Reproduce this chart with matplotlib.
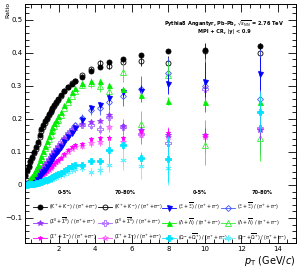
import numpy as np
import matplotlib
matplotlib.use("Agg")
import matplotlib.pyplot as plt
from matplotlib.lines import Line2D
from matplotlib.ticker import MultipleLocator

nan = np.nan

# pT bin centres (GeV/c)
pt = [0.15, 0.25, 0.35, 0.45, 0.55, 0.65, 0.75, 0.85, 0.95, 1.05,
      1.15, 1.25, 1.35, 1.45, 1.55, 1.65, 1.75, 1.85, 1.95,
      2.1, 2.3, 2.5, 2.7, 2.9,
      3.25, 3.75, 4.25, 4.75, 5.5, 6.5, 8.0, 10.0, 13.0]

# ratios to (pi+ + pi-), _c = 0-5%, _p = 70-80%
k_c = [0.030, 0.045, 0.058, 0.072, 0.086, 0.100, 0.115, 0.130, 0.152, 0.168,
       0.182, 0.194, 0.204, 0.214, 0.224, 0.234, 0.243, 0.251, 0.259,
       0.271, 0.284, 0.296, 0.306, 0.314,
       0.328, 0.345, 0.358, 0.371, 0.382, 0.393, 0.405, 0.409, 0.421]
k_p = [0.028, 0.042, 0.055, 0.069, 0.082, 0.096, 0.110, 0.125, 0.146, 0.162,
       0.176, 0.189, 0.200, 0.211, 0.221, 0.231, 0.240, 0.249, 0.257,
       0.270, 0.284, 0.297, 0.308, 0.316,
       0.332, 0.350, 0.369, 0.360, 0.371, 0.374, 0.369, 0.405, 0.399]

sig0_c = [0.003, 0.005, 0.008, 0.011, 0.015, 0.020, 0.025, 0.031, 0.038, 0.045,
          0.052, 0.059, 0.067, 0.075, 0.083, 0.091, 0.099, 0.107, 0.114,
          0.125, 0.138, 0.151, 0.163, 0.173,
          0.185, 0.192, 0.194, 0.212, 0.177, 0.167, 0.152, 0.150, 0.165]
sig0_p = [0.003, 0.005, 0.008, 0.012, 0.016, 0.021, 0.027, 0.033, 0.040, 0.047,
          0.055, 0.062, 0.070, 0.078, 0.086, 0.094, 0.102, 0.110, 0.118,
          0.129, 0.143, 0.156, 0.168, 0.178,
          0.182, 0.182, 0.169, 0.207, 0.175, 0.155, 0.126, 0.290, 0.172]

sigpm_c = [0.002, 0.003, 0.005, 0.007, 0.009, 0.012, 0.015, 0.019, 0.023, 0.027,
           0.032, 0.037, 0.042, 0.047, 0.053, 0.058, 0.064, 0.069, 0.075,
           0.083, 0.094, 0.105, 0.114, 0.121,
           0.125, 0.138, 0.141, 0.143, 0.141, 0.162, 0.157, 0.152, 0.222]
sigpm_p = [0.002, 0.003, 0.005, 0.007, 0.009, 0.012, 0.015, 0.019, 0.023, 0.027,
           0.032, 0.036, 0.041, 0.046, 0.052, 0.057, 0.062, 0.068, 0.073,
           0.081, 0.091, 0.101, 0.110, 0.116,
           0.118, 0.126, 0.130, 0.175, 0.130, 0.152, 0.145, 0.146, 0.170]

xi_c = [0.001, 0.002, 0.003, 0.005, 0.008, 0.011, 0.015, 0.020, 0.026, 0.032,
        0.039, 0.046, 0.054, 0.063, 0.071, 0.080, 0.088, 0.096, 0.104,
        0.115, 0.130, 0.145, 0.158, 0.171,
        0.196, 0.232, 0.242, 0.263, 0.280, 0.283, 0.306, 0.313, 0.336]
xi_p = [0.001, 0.002, 0.004, 0.006, 0.009, 0.012, 0.016, 0.021, 0.027, 0.034,
        0.041, 0.049, 0.057, 0.066, 0.075, 0.084, 0.093, 0.101, 0.110,
        0.122, 0.138, 0.153, 0.167, 0.180,
        0.204, 0.227, 0.232, 0.252, 0.268, 0.290, 0.338, 0.300, 0.260]

lam_c = [0.004, 0.008, 0.012, 0.018, 0.026, 0.036, 0.047, 0.060, 0.074, 0.089,
         0.104, 0.119, 0.134, 0.148, 0.162, 0.175, 0.187, 0.198, 0.208,
         0.222, 0.242, 0.260, 0.280, 0.293,
         0.310, 0.316, 0.316, 0.303, 0.290, 0.273, 0.255, 0.250, 0.250]
lam_p = [0.004, 0.007, 0.011, 0.017, 0.024, 0.033, 0.044, 0.056, 0.069, 0.083,
         0.097, 0.111, 0.125, 0.139, 0.152, 0.165, 0.177, 0.188, 0.198,
         0.212, 0.232, 0.250, 0.270, 0.285,
         0.303, 0.308, 0.300, 0.283, 0.343, 0.184, 0.333, 0.121, 0.142]

om_c = [0.001, 0.001, 0.002, 0.002, 0.003, 0.004, 0.005, 0.007, 0.008, 0.010,
        0.012, 0.014, 0.016, 0.019, 0.021, 0.024, 0.027, 0.030, 0.033,
        0.037, 0.043, 0.050, 0.056, 0.060,
        0.061, 0.071, 0.073, 0.106, 0.121, 0.081, 0.078, nan, 0.220]
om_p = [0.001, 0.001, 0.001, 0.002, 0.002, 0.003, 0.004, 0.005, 0.006, 0.008,
        0.009, 0.011, 0.013, 0.015, 0.017, 0.019, 0.021, 0.024, 0.026,
        0.029, 0.034, 0.039, 0.044, 0.048,
        0.052, 0.040, 0.045, 0.060, 0.076, 0.058, 0.050, nan, nan]

# statistical errors of the nine high-pT bins (3.25 ... 13 GeV/c)
k_c_err = [0.002, 0.003, 0.003, 0.004, 0.004, 0.005, 0.006, 0.008, 0.010]
k_p_err = [0.004, 0.006, 0.008, 0.010, 0.012, 0.015, 0.020, 0.025, 0.030]
sig0_c_err = [0.003, 0.005, 0.006, 0.008, 0.010, 0.012, 0.015, 0.020, 0.030]
sig0_p_err = [0.010, 0.012, 0.015, 0.020, 0.025, 0.030, 0.040, 0.060, 0.080]
sigpm_c_err = [0.003, 0.004, 0.005, 0.007, 0.008, 0.010, 0.015, 0.020, 0.030]
sigpm_p_err = [0.008, 0.010, 0.012, 0.015, 0.020, 0.025, 0.030, 0.050, 0.060]
xi_c_err = [0.005, 0.007, 0.009, 0.012, 0.015, 0.020, 0.030, 0.060, 0.050]
xi_p_err = [0.010, 0.015, 0.020, 0.025, 0.030, 0.040, 0.050, 0.080, 0.160]
lam_c_err = [0.003, 0.004, 0.006, 0.007, 0.008, 0.010, 0.012, 0.015, 0.020]
lam_p_err = [0.010, 0.015, 0.020, 0.025, 0.030, 0.040, 0.040, 0.060, 0.070]
om_c_err = [0.004, 0.006, 0.008, 0.040, 0.015, 0.020, 0.070, 0.050, 0.060]
om_p_err = [0.010, 0.012, 0.015, 0.020, 0.030, 0.040, 0.050, 0.060, 0.060]

n_low = len(pt) - len(k_c_err)

purple = '#9933ff'
series = [
    # label, y, err, colour, marker, filled, size
    (r'$(K^{+}+K^{-})\ /\ (\pi^{+}+\pi^{-})$', k_c, k_c_err, 'black', 'o', True, 3.6),
    (r'$(\Sigma^{0}+\overline{\Sigma}^{0})\ /\ (\pi^{+}+\pi^{-})$', sig0_c, sig0_c_err, purple, '*', True, 4.2),
    (r'$(\Sigma^{+}+\Sigma^{-})\ /\ (\pi^{+}+\pi^{-})$', sigpm_c, sigpm_c_err, '#ff00ff', '*', True, 3.6),
    (r'$(K^{+}+K^{-})\ /\ (\pi^{+}+\pi^{-})$', k_p, k_p_err, 'black', 'o', False, 3.6),
    (r'$(\Sigma^{0}+\overline{\Sigma}^{0})\ /\ (\pi^{+}+\pi^{-})$', sig0_p, sig0_p_err, '#aa66ff', 'P', False, 3.8),
    (r'$(\Sigma^{+}+\Sigma^{-})\ /\ (\pi^{+}+\pi^{-})$', sigpm_p, sigpm_p_err, '#ff55ff', '*', False, 4.4),
    (r'$(\Xi+\overline{\Xi})\ /\ (\pi^{+}+\pi^{-})$', xi_c, xi_c_err, '#0000ff', 'v', True, 3.6),
    (r'$(\Lambda+\overline{\Lambda})\ /\ (\pi^{+}+\pi^{-})$', lam_c, lam_c_err, '#00ee00', '^', True, 3.6),
    (r'$(\Omega^{-}+\overline{\Omega}^{+})\ /\ (\pi^{+}+\pi^{-})$', om_c, om_c_err, '#00e5ff', 'P', True, 4.0),
    (r'$(\Xi+\overline{\Xi})\ /\ (\pi^{+}+\pi^{-})$', xi_p, xi_p_err, '#4455ff', 'D', False, 3.0),
    (r'$(\Lambda+\overline{\Lambda})\ /\ (\pi^{+}+\pi^{-})$', lam_p, lam_p_err, '#33ee33', '^', False, 3.8),
    (r'$(\Omega^{-}+\overline{\Omega}^{+})\ /\ (\pi^{+}+\pi^{-})$', om_p, om_p_err, '#66f0ff', (6, 2, 0), False, 4.4),
]

fig = plt.figure(figsize=(3.0, 2.71), dpi=100)
ax = fig.add_axes([25 / 300, 28 / 271, 271 / 300, 239 / 271])

# draw peripheral first, central on top
draw_order = [3, 4, 5, 9, 10, 11, 0, 1, 2, 6, 7, 8]
handles = []
for label, y, e, col, mk, filled, ms in series:
    handles.append(Line2D([], [], color=col, marker=mk, ms=ms, lw=0.6,
                          mfc=col if filled else 'none', mec=col, mew=0.6))
for i in draw_order:
    label, y, e, col, mk, filled, ms = series[i]
    err = np.r_[np.zeros(n_low), e]
    ax.errorbar(pt, np.array(y, dtype=float), yerr=err, fmt='none', ecolor=col,
                elinewidth=0.6, capsize=0)
    ax.plot(pt, y, ls='none', marker=mk, ms=ms, color=col,
            mfc=col if filled else 'none', mec=col, mew=0.6)

ax.set_xlim(0.15, 15)
ax.set_ylim(-0.176, 0.548)
ax.xaxis.set_major_locator(MultipleLocator(2))
ax.xaxis.set_minor_locator(MultipleLocator(0.5))
ax.yaxis.set_major_locator(MultipleLocator(0.1))
ax.yaxis.set_minor_locator(MultipleLocator(0.02))
ax.tick_params(which='both', direction='in', top=True, right=True, width=0.6,
               labelsize=5, pad=2)
ax.tick_params(which='major', length=5.5)
ax.tick_params(which='minor', length=2.8)
for sp in ax.spines.values():
    sp.set_linewidth(0.7)
ax.set_yticks([-0.1, 0, 0.1, 0.2, 0.3, 0.4, 0.5])
ax.set_yticklabels(['\u22120.1', '0', '0.1', '0.2', '0.3', '0.4', '0.5'])
ax.set_xticks([2, 4, 6, 8, 10, 12, 14])

fig.text(8 / 300, 1 - 2 / 271, 'Ratio', rotation=90, ha='center', va='top', fontsize=4.5)
fig.text(295 / 300, 1 - 268 / 271, r'$p_{\rm T}$ (GeV/$c$)', ha='right', va='bottom',
         fontsize=7)

fig.text(224 / 300, 1 - 24 / 271,
         r'Pythia8 Angantyr, Pb-Pb, $\sqrt{s_{\rm NN}}$ = 2.76 TeV',
         ha='center', va='center', fontsize=3.6, fontweight='bold')
fig.text(224 / 300, 1 - 31 / 271, 'MPI + CR, |y| < 0.9',
         ha='center', va='center', fontsize=3.6, fontweight='bold')

for xh, txt in [(65, '0-5%'), (125, '70-80%'), (200, '0-5%'), (262, '70-80%')]:
    fig.text(xh / 300, 1 - 192 / 271, txt, ha='center', va='center',
             fontsize=3.6, fontweight='bold')

# one legend per column, placed like the reference
col_x = [33, 98, 162, 221]
for c in range(4):
    idx = [3 * c, 3 * c + 1, 3 * c + 2]
    fig.legend([handles[i] for i in idx], [series[i][0] for i in idx],
               frameon=False, loc='upper left',
               bbox_to_anchor=(col_x[c] / 300, 1 - 202 / 271),
               fontsize=3.3, handlelength=3.0, handletextpad=0.4,
               labelspacing=1.15, borderpad=0, borderaxespad=0)

fig.savefig('out.png', dpi=100)
